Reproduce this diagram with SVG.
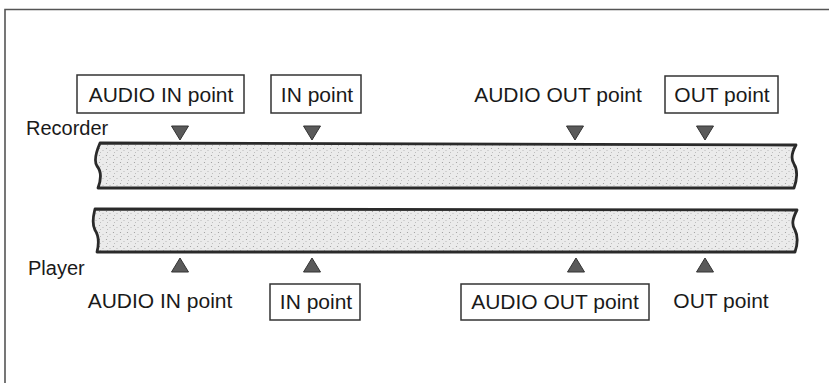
<svg xmlns="http://www.w3.org/2000/svg" width="829" height="383" viewBox="0 0 829 383">
<style>
.lbl{font-family:"Liberation Sans",Arial,sans-serif;font-size:21px;fill:#1a1a1a}
.side{font-size:20px}
.box{fill:#fff;stroke:#333;stroke-width:1.5}
.tape{fill:url(#stip);stroke:#2a2a2a;stroke-width:2.8;stroke-linejoin:round}
.tri{fill:#5a5a5a;stroke:#333;stroke-width:1}
.frame{fill:none;stroke:#555;stroke-width:1.6}
</style>
<defs>
<pattern id="stip" width="7" height="7" patternUnits="userSpaceOnUse">
<rect width="7" height="7" fill="#ebebeb"/>
<circle cx="1.5" cy="1.5" r="0.6" fill="#999"/>
<circle cx="5" cy="3.5" r="0.5" fill="#aaa"/>
<circle cx="2.5" cy="5.5" r="0.5" fill="#b0b0b0"/>
</pattern>
</defs>
<path class="frame" d="M5,383 V9.5 H829"/>
<g id="recorder">
<text class="lbl side" x="26" y="135">Recorder</text>
<path class="tape" d="M100,143 L796,145 C792,152 790,158 794,164 C798,170 797,180 794,188 L98,188 C101,180 102,172 97,166 C93,160 97,150 100,143 Z"/>
</g>
<g id="player">
<text class="lbl side" x="28" y="275">Player</text>
<path class="tape" d="M95,209 L797,210 C793,218 791,224 795,230 C799,238 797,246 795,252 L97,252 C99,244 99,236 95,230 C91,222 94,214 95,209 Z"/>
</g>
<g id="rec-audio-in">
<rect class="box" x="77" y="75" width="167" height="38"/>
<text class="lbl" x="161" y="102" text-anchor="middle">AUDIO IN point</text>
<polygon class="tri" points="171.5,126 188.5,126 180,140"/>
</g>
<g id="rec-in">
<rect class="box" x="271" y="75" width="90" height="38"/>
<text class="lbl" x="317" y="102" text-anchor="middle">IN point</text>
<polygon class="tri" points="303.5,126 320.5,126 312,140"/>
</g>
<g id="rec-audio-out">
<text class="lbl" x="558" y="102" text-anchor="middle">AUDIO OUT point</text>
<polygon class="tri" points="566.5,126 583.5,126 575,140"/>
</g>
<g id="rec-out">
<rect class="box" x="665" y="76" width="113" height="37"/>
<text class="lbl" x="722" y="102" text-anchor="middle">OUT point</text>
<polygon class="tri" points="696.5,126 713.5,126 705,140"/>
</g>
<g id="pl-audio-in">
<polygon class="tri" points="171.5,272 188.5,272 180,258"/>
<text class="lbl" x="160" y="308" text-anchor="middle">AUDIO IN point</text>
</g>
<g id="pl-in">
<polygon class="tri" points="303.5,272 320.5,272 312,258"/>
<rect class="box" x="270" y="284" width="90" height="36"/>
<text class="lbl" x="316" y="309" text-anchor="middle">IN point</text>
</g>
<g id="pl-audio-out">
<polygon class="tri" points="567.5,272 584.5,272 576,258"/>
<rect class="box" x="461" y="284" width="188" height="36"/>
<text class="lbl" x="555" y="309" text-anchor="middle">AUDIO OUT point</text>
</g>
<g id="pl-out">
<polygon class="tri" points="696.5,272 713.5,272 705,258"/>
<text class="lbl" x="721" y="308" text-anchor="middle">OUT point</text>
</g>
<g id="connectors"></g>
</svg>
